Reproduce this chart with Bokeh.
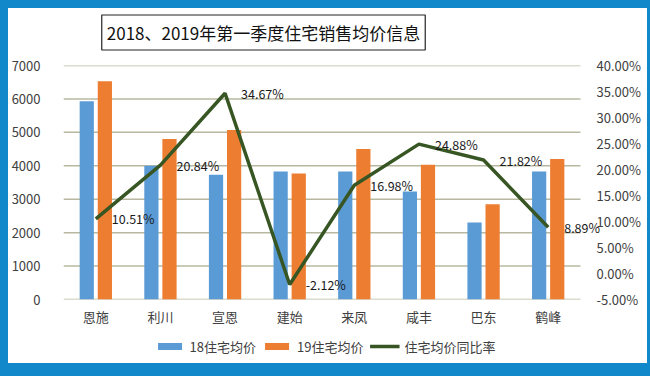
from bokeh.plotting import figure
from bokeh.layouts import column
from bokeh.models import (ColumnDataSource, Range1d, LinearAxis, Label, LabelSet,
                          Legend, LegendItem, FixedTicker, CustomJSTickFormatter)
from bokeh.core.properties import value
from bokeh.embed import file_html
from bokeh.resources import INLINE

categories = ["恩施", "利川", "宣恩", "建始", "来凤", "咸丰", "巴东", "鹤峰"]
price_18 = [5930, 4000, 3730, 3830, 3830, 3230, 2300, 3830]
price_19 = [6530, 4800, 5070, 3770, 4500, 4030, 2850, 4200]
yoy_rate = [10.51, 20.84, 34.67, -2.12, 16.98, 24.88, 21.82, 8.89]
left_ticks = [0, 1000, 2000, 3000, 4000, 5000, 6000, 7000]
right_ticks = [-5, 0, 5, 10, 15, 20, 25, 30, 35, 40]
title_text = "2018、2019年第一季度住宅销售均价信息"
legend_labels = ["18住宅均价", "19住宅均价", "住宅均价同比率"]

FONT = "Noto Sans CJK SC"
BLUE = "#5b9bd5"
ORANGE = "#ed7d31"
GREEN = "#375623"
GRID = "#b8b8a0"
TXT = "#404040"
W = 634

n = len(categories)
idx = list(range(n))
PLOT_W = 517      # width of the gridded category area
FRAME_W = 547     # frame a bit wider so the last data label is not clipped
x_start = -0.5
x_end = -0.5 + n * FRAME_W / PLOT_W

src = ColumnDataSource(dict(
    x=idx, x18=[i - 0.14 for i in idx], x19=[i + 0.14 for i in idx],
    p18=price_18, p19=price_19, rate=yoy_rate,
    lbl=["%.2f%%" % v for v in yoy_rate],
))
grid_src = ColumnDataSource(dict(y=left_ticks, x0=[x_start] * len(left_ticks),
                                 x1=[n - 0.5] * len(left_ticks)))


def strip(h):
    f = figure(frame_width=W, frame_height=h, x_range=Range1d(-100, -99),
               y_range=Range1d(-100, -99), x_axis_type=None, y_axis_type=None,
               min_border=0, min_border_left=0, min_border_right=0, min_border_top=0,
               min_border_bottom=0, output_backend="svg", toolbar_location=None,
               outline_line_color=None, background_fill_color="white",
               border_fill_color="white")
    f.xgrid.grid_line_color = None
    f.ygrid.grid_line_color = None
    return f


# ---- title strip ----
tf = strip(47)
tf.add_layout(Label(x=200, y=23, x_units="screen", y_units="screen", text=title_text,
                    text_font=FONT, text_font_size="17px", text_color="#111111",
                    text_align="center", text_baseline="middle",
                    border_line_color="#222222", border_line_width=1.2,
                    background_fill_color="white", padding=5))

# ---- main chart ----
p = figure(x_range=Range1d(x_start, x_end), y_range=Range1d(0, 7000),
           frame_width=FRAME_W, frame_height=234, min_border_left=50, min_border_right=37,
           min_border_top=10, min_border_bottom=30,
           output_backend="svg", toolbar_location=None, background_fill_color="white",
           border_fill_color="white", outline_line_color=None)
p.extra_y_ranges = {"pct": Range1d(-5, 40)}

p.segment(x0="x0", x1="x1", y0="y", y1="y", source=grid_src, line_color=GRID, line_width=1.5)
p.vbar(x="x18", top="p18", width=0.22, source=src, fill_color=BLUE, line_color=None)
p.vbar(x="x19", top="p19", width=0.22, source=src, fill_color=ORANGE, line_color=None)
p.line(x="x", y="rate", source=src, y_range_name="pct", line_color=GREEN, line_width=3.5)
p.add_layout(LabelSet(x="x", y="rate", text="lbl", source=src, y_range_name="pct",
                      x_offset=16, text_baseline="middle", text_align="left",
                      text_font=value(FONT), text_font_size="12.5px", text_color="#1a1a1a"))

p.xaxis.ticker = FixedTicker(ticks=idx)
p.xaxis.formatter = CustomJSTickFormatter(args=dict(cats=categories),
                                          code="return cats[Math.round(tick)] || '';")
p.yaxis.ticker = FixedTicker(ticks=left_ticks)
p.xaxis.axis_line_color = None
p.yaxis.axis_line_color = None
for ax in (p.xaxis[0], p.yaxis[0]):
    ax.major_tick_line_color = None
    ax.minor_tick_line_color = None
    ax.major_label_text_font = FONT
    ax.major_label_text_font_size = "13px"
    ax.major_label_text_color = TXT
p.yaxis.major_label_standoff = 17
p.xaxis.major_label_standoff = 1

ra = LinearAxis(y_range_name="pct", ticker=FixedTicker(ticks=right_ticks),
                formatter=CustomJSTickFormatter(code="return tick.toFixed(2) + '%';"),
                axis_line_color=None, major_tick_line_color=None, minor_tick_line_color=None,
                major_label_text_font=FONT, major_label_text_font_size="13px",
                major_label_text_color=TXT, major_label_standoff=-20)
p.add_layout(ra, "right")
p.xgrid.grid_line_color = None
p.ygrid.grid_line_color = None

# ---- legend strip (legend glyphs share the chart data, ranges keep them out of view) ----
lf = strip(34)
l18 = lf.vbar(x="x18", top="p18", width=0.22, source=src, fill_color=BLUE, line_color=None)
l19 = lf.vbar(x="x19", top="p19", width=0.22, source=src, fill_color=ORANGE, line_color=None)
lln = lf.line(x="x", y="rate", source=src, line_color=GREEN, line_width=3.5)
legend = Legend(items=[LegendItem(label=legend_labels[0], renderers=[l18]),
                       LegendItem(label=legend_labels[1], renderers=[l19]),
                       LegendItem(label=legend_labels[2], renderers=[lln])],
                orientation="horizontal", location="center",
                label_text_font=FONT, label_text_font_size="13px", label_text_color=TXT,
                glyph_width=30, glyph_height=9, label_standoff=5, spacing=6,
                padding=0, margin=0, border_line_color=None, background_fill_alpha=0)
lf.add_layout(legend)

layout = column(tf, p, lf, spacing=0, styles={"background-color": "white"})

html = file_html(layout, INLINE)
css = ("<style>html,body{background:#1188c9 !important;margin:0 !important;"
       "padding:0 !important;}body{padding:8px !important;box-sizing:border-box;}</style>")
html = html.replace("</head>", css + "</head>", 1)
open("out.html", "w").write(html)
